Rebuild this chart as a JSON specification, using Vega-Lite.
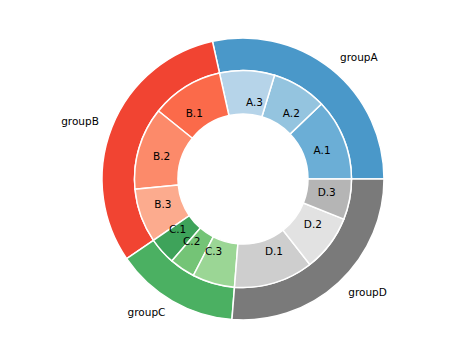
{
  "$schema": "https://vega.github.io/schema/vega-lite/v6.json",
  "width": 462,
  "height": 352,
  "autosize": {"type": "none"},
  "padding": {"left": 12, "top": 3, "right": 0, "bottom": 0},
  "background": "white",
  "config": {"view": {"stroke": null}},
  "datasets": {
    "outer": [
      {"name": "groupA", "value": 102.5},
      {"name": "groupB", "value": 111.9},
      {"name": "groupC", "value": 51.1},
      {"name": "groupD", "value": 94.5}
    ],
    "inner": [
      {"name": "A.1", "value": 43.7},
      {"name": "A.2", "value": 29.4},
      {"name": "A.3", "value": 29.4},
      {"name": "B.1", "value": 38.7},
      {"name": "B.2", "value": 44.2},
      {"name": "B.3", "value": 29.0},
      {"name": "C.1", "value": 14.6},
      {"name": "C.2", "value": 13.8},
      {"name": "C.3", "value": 22.7},
      {"name": "D.1", "value": 42.5},
      {"name": "D.2", "value": 30.3},
      {"name": "D.3", "value": 21.7}
    ]
  },
  "layer": [
    {
      "data": {"name": "outer"},
      "mark": {"type": "arc", "radius": 141, "radius2": 108.5, "stroke": "white", "strokeWidth": 1.5},
      "encoding": {
        "theta": {"field": "value", "type": "quantitative", "stack": true, "scale": {"range": [1.5708, -4.7124]}},
        "color": {
          "field": "name", "type": "nominal", "legend": null,
          "scale": {
            "domain": ["groupA", "groupB", "groupC", "groupD", "A.1", "A.2", "A.3", "B.1", "B.2", "B.3", "C.1", "C.2", "C.3", "D.1", "D.2", "D.3"],
            "range": ["#4a98c9", "#f14432", "#4bb062", "#7a7a7a", "#6baed6", "#94c4df", "#b6d4e9", "#fb6a4a", "#fc8a6a", "#fcab8e", "#3ea35a", "#74c476", "#9bd695", "#cecece", "#e2e2e2", "#b5b5b5"]
          }
        }
      }
    },
    {
      "data": {"name": "inner"},
      "mark": {"type": "arc", "radius": 108.5, "radius2": 65, "stroke": "white", "strokeWidth": 1.5},
      "encoding": {
        "theta": {"field": "value", "type": "quantitative", "stack": true, "scale": {"range": [1.5708, -4.7124]}},
        "color": {"field": "name", "type": "nominal", "legend": null}
      }
    },
    {
      "data": {"name": "outer"},
      "mark": {
        "type": "text", "radius": 155, "font": "DejaVu Sans", "fontSize": 10.5, "color": "black", "baseline": "middle",
        "align": {"expr": "cos(PI*(datum.value_start+datum.value_end)/360) >= 0 ? 'left' : 'right'"}
      },
      "encoding": {
        "theta": {"field": "value", "type": "quantitative", "stack": true},
        "detail": {"field": "name", "type": "nominal"},
        "text": {"field": "name"}
      }
    },
    {
      "data": {"name": "inner"},
      "mark": {
        "type": "text", "radius": 76, "font": "DejaVu Sans", "fontSize": 10.5, "color": "black", "baseline": "middle",
        "align": {"expr": "cos(PI*(datum.value_start+datum.value_end)/360) >= 0 ? 'left' : 'right'"}
      },
      "encoding": {
        "theta": {"field": "value", "type": "quantitative", "stack": true},
        "detail": {"field": "name", "type": "nominal"},
        "text": {"field": "name"}
      }
    }
  ]
}
